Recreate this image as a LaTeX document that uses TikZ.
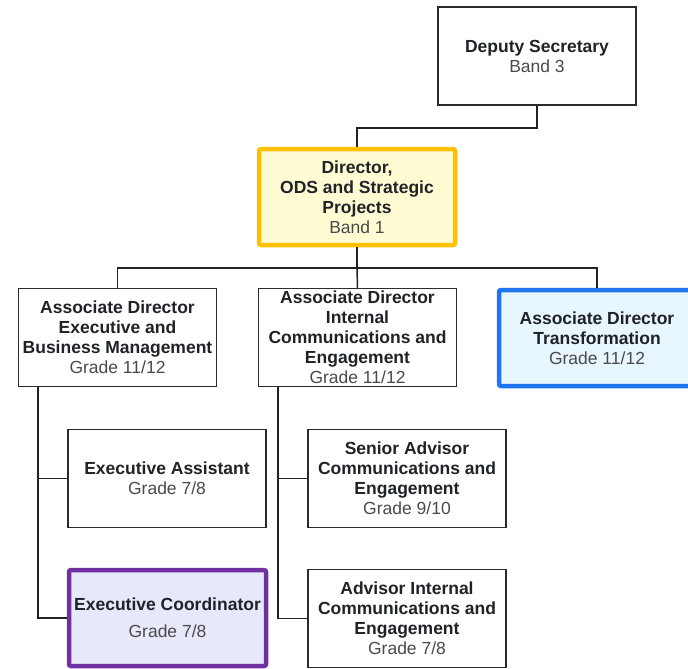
\documentclass[tikz,border=0pt]{standalone}
\usepackage{fontspec}
\setmainfont{Liberation Sans}
\definecolor{boxline}{HTML}{2B2B2B}
\definecolor{linkline}{HTML}{222222}
\definecolor{titleink}{HTML}{1F2328}
\definecolor{gradeink}{HTML}{4A4A4A}
\definecolor{goldline}{HTML}{FFC000}
\definecolor{goldfill}{HTML}{FFFBD3}
\definecolor{blueline}{HTML}{1F74F2}
\definecolor{bluefill}{HTML}{E8F6FE}
\definecolor{purpleline}{HTML}{7030A0}
\definecolor{purplefill}{HTML}{E8E8FB}
\newcommand{\rolegrade}[1]{{\mdseries\color{gradeink}#1}}
\begin{document}
\begin{tikzpicture}[x=1pt,y=-1pt,
  role/.style={draw=boxline, line width=1.5pt, fill=white,
    minimum width=198pt, minimum height=98pt, inner sep=0pt,
    align=center, text=titleink,
    font=\bfseries\fontsize{17.5}{20}\selectfont},
  keyrole/.style={role, line width=4.5pt, rounded corners=2pt,
    minimum width=196pt, minimum height=96pt},
  link/.style={draw=linkline, line width=1.5pt}]
\useasboundingbox (0,0) rectangle (688,669);
\clip (0,0) rectangle (688,669);

% top of the chart
\node[role] (dep) at (537,56) {Deputy Secretary\\\rolegrade{Band 3}};
\node[keyrole, draw=goldline, fill=goldfill] (dir) at (357,197)
  {Director,\\ODS and Strategic\\Projects\\\rolegrade{Band 1}};

% associate directors
\node[role] (adexec) at (117.5,337.5)
  {Associate Director\\Executive and\\Business Management\\\rolegrade{Grade 11/12}};
\node[role] (adint) at (357.5,337.5)
  {Associate Director\\Internal\\Communications and\\Engagement\\\rolegrade{Grade 11/12}};
\node[keyrole, draw=blueline, fill=bluefill] (adtrans) at (597,338)
  {Associate Director\\Transformation\\\rolegrade{Grade 11/12}};

% staff
\node[role] (execasst) at (167,478.5)
  {Executive Assistant\\\rolegrade{Grade 7/8}};
\node[keyrole, draw=purpleline, fill=purplefill, minimum width=197pt] (execcoord) at (167.5,618)
  {Executive Coordinator\\[7pt]\rolegrade{Grade 7/8}};
\node[role] (senadv) at (407,478.5)
  {Senior Advisor\\Communications and\\Engagement\\\rolegrade{Grade 9/10}};
\node[role] (adv) at (407,618.5)
  {Advisor Internal\\Communications and\\Engagement\\\rolegrade{Grade 7/8}};

% reporting lines
\draw[link] (dep.south) -- ++(0,22) -| (dir.north);
\coordinate (bus) at (357,268);
\draw[link] (dir.south) -- (bus);
\draw[link] (adexec.north) |- (bus) -| (adtrans.north);
\draw[link] (adint.north) -- (bus);
\draw[link] ([xshift=20pt]adexec.south west) |- (execasst.west);
\draw[link] ([xshift=20pt]adexec.south west) |- (execcoord.west);
\draw[link] ([xshift=20pt]adint.south west) |- (senadv.west);
\draw[link] ([xshift=20pt]adint.south west) |- (adv.west);
\end{tikzpicture}
\end{document}
